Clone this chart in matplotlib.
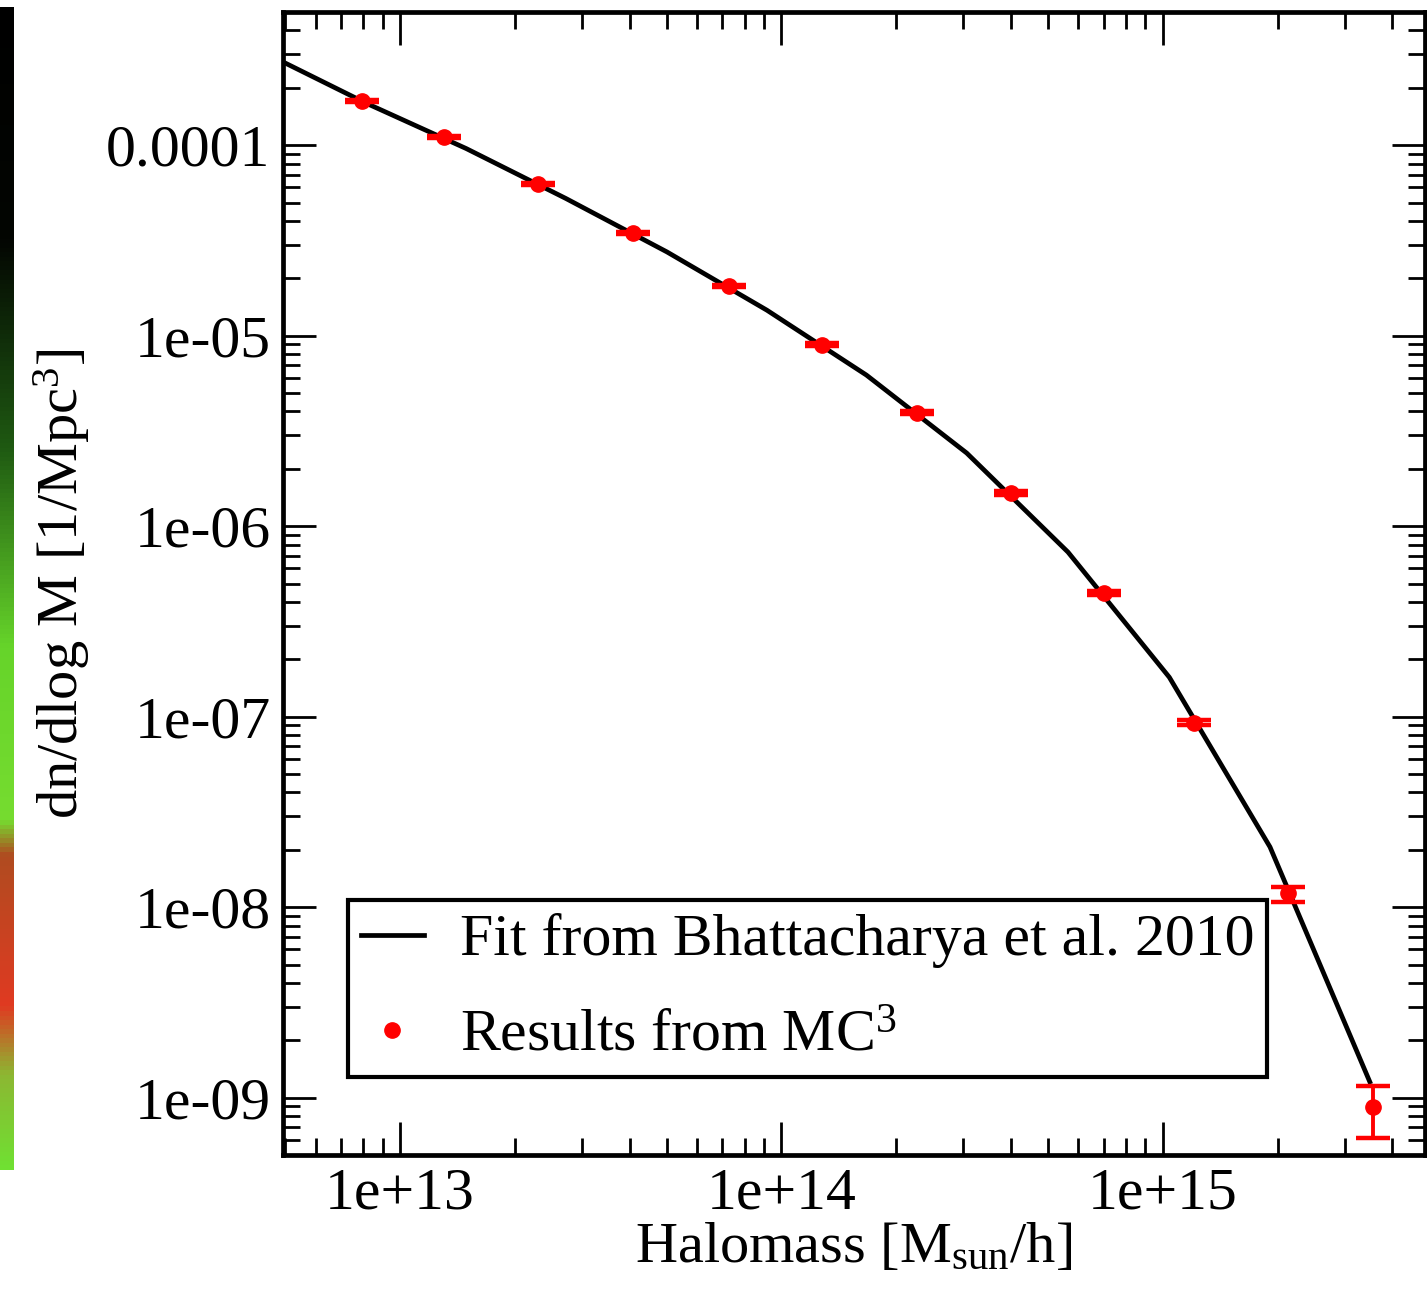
import numpy as np
import matplotlib

matplotlib.use("Agg", force=True)
import matplotlib.pyplot as plt
from matplotlib.colors import LinearSegmentedColormap
from matplotlib.lines import Line2D

# fit curve (Bhattacharya et al. 2010)
fit_mass = [4.43e12, 8.15e12, 1.49e13, 2.72e13, 5.01e13, 9.16e13, 1.67e14,
            3.06e14, 5.64e14, 1.04e15, 1.91e15, 3.49e15]
fit_dndlogm = [3.04e-4, 1.66e-4, 9.6e-5, 5.25e-5, 2.75e-5, 1.36e-5, 6.21e-6,
               2.42e-6, 7.31e-7, 1.61e-7, 2.07e-8, 1.21e-9]

# MC^3 results with error bars
mc_mass = [7.94e12, 1.30e13, 2.30e13, 4.08e13, 7.28e13, 1.28e14, 2.26e14,
           4.00e14, 7.0e14, 1.21e15, 2.13e15, 3.55e15]
mc_dndlogm = [1.70e-4, 1.10e-4, 6.24e-5, 3.45e-5, 1.82e-5, 8.97e-6, 3.94e-6,
              1.49e-6, 4.45e-7, 9.3e-8, 1.18e-8, 8.97e-10]
mc_err_low = [2.0e-6, 1.5e-6, 8.0e-7, 5.0e-7, 3.0e-7, 1.6e-7, 8.0e-8,
              3.5e-8, 1.2e-8, 3.0e-9, 1.1e-9, 2.8e-10]
mc_err_high = [2.0e-6, 1.5e-6, 8.0e-7, 5.0e-7, 3.0e-7, 1.6e-7, 8.0e-8,
               3.5e-8, 1.2e-8, 3.0e-9, 0.9e-9, 2.6e-10]

xticks = [1e13, 1e14, 1e15]
xticklabels = ["1e+13", "1e+14", "1e+15"]
yticks = [1e-9, 1e-8, 1e-7, 1e-6, 1e-5, 1e-4]
yticklabels = ["1e-09", "1e-08", "1e-07", "1e-06", "1e-05", "0.0001"]

# colours of the cropped strip at the left edge (top -> bottom)
strip_stops = [(0.0, "#000000"), (0.20, "#030602"), (0.38, "#1f5a12"),
               (0.55, "#66d42a"), (0.70, "#76dc30"), (0.73, "#b04c20"),
               (0.86, "#e03a22"), (0.92, "#8cb832"), (1.0, "#70e032")]

plt.rcParams["font.family"] = ["Liberation Serif", "DejaVu Serif"]
plt.rcParams["mathtext.fontset"] = "custom"
plt.rcParams["mathtext.rm"] = "Liberation Serif"
plt.rcParams["mathtext.it"] = "Liberation Serif:italic"

W, H = 1427, 1296
fig = plt.figure(figsize=(W / 100, H / 100), dpi=100)

strip = fig.add_axes([0, 1 - 1170 / H, 14 / W, (1170 - 7) / H])
cmap = LinearSegmentedColormap.from_list("strip", strip_stops)
strip.imshow(np.linspace(0, 1, 256)[:, None], cmap=cmap, aspect="auto")
strip.axis("off")

ax = fig.add_axes([283 / W, 1 - 1155 / H, 1142 / W, 1143 / H])
ax.set_xscale("log")
ax.set_yscale("log")
ax.set_xlim(4.93e12, 4.87e15)
ax.set_ylim(5.0e-10, 5.0e-4)

ax.plot(fit_mass, fit_dndlogm, color="black", lw=3.4, zorder=2)
ax.errorbar(mc_mass, mc_dndlogm, yerr=[mc_err_low, mc_err_high], fmt="o",
            color="red", ms=11, elinewidth=2.8, capsize=12, capthick=3.2,
            zorder=3)

ax.set_xticks(xticks, xticklabels)
ax.set_yticks(yticks, yticklabels)
ax.tick_params(which="both", direction="in", top=True, right=True,
               labelsize=43, width=2.0, color="black")
ax.tick_params(axis="y", which="major", length=24, pad=9)
ax.tick_params(axis="x", which="major", length=24, pad=9)
ax.tick_params(which="minor", length=12)
ax.xaxis.set_minor_locator(matplotlib.ticker.LogLocator(base=10, subs=np.arange(2, 10)))
ax.yaxis.set_minor_locator(matplotlib.ticker.LogLocator(base=10, subs=np.arange(2, 10)))
ax.xaxis.set_minor_formatter(matplotlib.ticker.NullFormatter())
ax.yaxis.set_minor_formatter(matplotlib.ticker.NullFormatter())
for sp in ax.spines.values():
    sp.set_linewidth(3.4)

ax.set_xlabel(r"Halomass [M$_{\mathrm{sun}}$/h]", fontsize=42, labelpad=0)
ax.set_ylabel(r"dn/dlog M [1/Mpc$^{3}$]", fontsize=42, labelpad=10)

handles = [Line2D([], [], color="black", lw=3.4),
           Line2D([], [], color="red", marker="o", ls="none", ms=11)]
labels = ["Fit from Bhattacharya et al. 2010", r"Results from MC$^{3}$"]
leg = ax.legend(handles, labels, loc="lower left", bbox_to_anchor=(0.0569, 0.0682),
                borderaxespad=0, fontsize=43, frameon=True, fancybox=False,
                framealpha=1, handlelength=1.05, handletextpad=0.6,
                borderpad=0.22, labelspacing=0.68, edgecolor="black")
leg.get_frame().set_linewidth(3.0)

fig.savefig("out.png", dpi=100)
